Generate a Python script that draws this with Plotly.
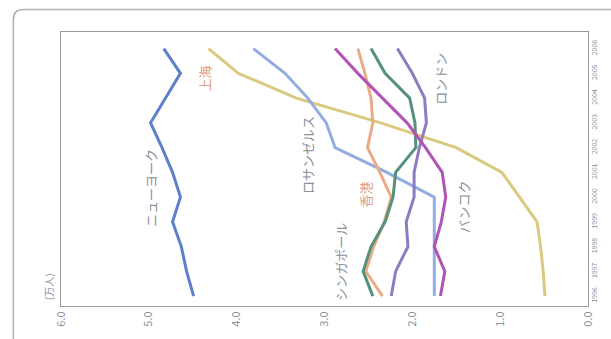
import plotly.graph_objects as go

# Population (万人) by year, 1996-2006
years = [1996, 1997, 1998, 1999, 2000, 2001, 2002, 2003, 2004, 2005, 2006]

new_york    = [4.49, 4.57, 4.63, 4.73, 4.64, 4.73, 4.85, 4.98, 4.81, 4.64, 4.83]
shanghai    = [0.49, 0.51, 0.54, 0.58, 0.78, 0.98, 1.50, 2.36, 3.32, 3.98, 4.32]
los_angeles = [1.75, 1.75, 1.75, 1.75, 1.75, 2.29, 2.88, 2.98, 3.19, 3.45, 3.81]
hong_kong   = [2.34, 2.53, 2.44, 2.32, 2.24, 2.37, 2.51, 2.45, 2.47, 2.54, 2.62]
singapore   = [2.45, 2.56, 2.47, 2.31, 2.22, 2.19, 1.96, 1.97, 2.03, 2.31, 2.47]
london      = [2.24, 2.19, 2.05, 2.07, 1.98, 1.98, 1.92, 1.84, 1.86, 2.00, 2.17]
bangkok     = [1.68, 1.63, 1.75, 1.67, 1.62, 1.66, 1.85, 2.06, 2.34, 2.62, 2.88]

value_ticks = [0, 1, 2, 3, 4, 5, 6]
year_labels = [str(y) for y in years]

series = [
    ("ニューヨーク", new_york, "#5d80cc"),
    ("上海", shanghai, "#dac97f"),
    ("ロサンゼルス", los_angeles, "#93ace2"),
    ("香港", hong_kong, "#eaab88"),
    ("シンガポール", singapore, "#55917c"),
    ("ロンドン", london, "#8d7cc2"),
    ("バンコク", bangkok, "#b253b6"),
]

FONT = "Noto Sans CJK JP"

fig = go.Figure()
for name, vals, color in series:
    fig.add_trace(go.Scatter(
        x=vals, y=years, mode="lines", name=name,
        line=dict(color=color, width=3),
        showlegend=False, hoverinfo="skip",
    ))

# Rotated series labels
labels = [
    ("ニューヨーク", 4.98, 2000.35, "#8a8f99"),
    ("上海", 4.37, 2004.8, "#e39a80"),
    ("ロサンゼルス", 3.20, 2001.7, "#8a8f99"),
    ("香港", 2.53, 2000.1, "#e39a80"),
    ("シンガポール", 2.82, 1997.4, "#8a8f99"),
    ("ロンドン", 1.68, 2004.8, "#8a8f99"),
    ("バンコク", 1.41, 1999.6, "#8a8f99"),
]
for text, x, y, color in labels:
    fig.add_annotation(
        x=x, y=y, text=text, showarrow=False, textangle=-90,
        xanchor="center", yanchor="middle",
        font=dict(family=FONT, size=13, color=color),
    )

# Unit label
fig.add_annotation(
    xref="paper", yref="paper", x=-0.024, y=0.07, text="(万人)",
    showarrow=False, textangle=-90, xanchor="center", yanchor="middle",
    font=dict(family=FONT, size=10, color="#8a8f99"),
)

# Outer rounded frame
x0, x1 = -0.0904, 1.2
yt, yb = 1.082, -0.3
rx, ry = 10 / 531, 10 / 280
fig.add_shape(
    type="path", xref="paper", yref="paper",
    path=f"M {x0},{yb} L {x0},{yt - ry} Q {x0},{yt} {x0 + rx},{yt} L {x1},{yt}",
    line=dict(color="#b0b0b0", width=1.5),
)

fig.update_xaxes(
    range=[6.0, 0.0], tickvals=value_ticks,
    ticktext=[f"{v:.1f}" for v in value_ticks],
    tickangle=-90, showgrid=False, zeroline=False,
    showline=True, mirror=True, linecolor="#9a9a9a", linewidth=1,
    ticks="", tickfont=dict(family=FONT, size=11, color="#8a8f99"),
)
fig.update_yaxes(
    range=[1995.6, 2006.67], tickvals=years, ticktext=year_labels,
    side="right", tickangle=-90, showgrid=False, zeroline=False,
    showline=True, mirror=True, linecolor="#9a9a9a", linewidth=1,
    ticks="", tickfont=dict(family=FONT, size=7, color="#8a8f99"),
)

fig.update_layout(
    width=611, height=339,
    margin=dict(l=61, r=19, t=32, b=27),
    paper_bgcolor="white", plot_bgcolor="white",
)

fig.write_html("out.html")
